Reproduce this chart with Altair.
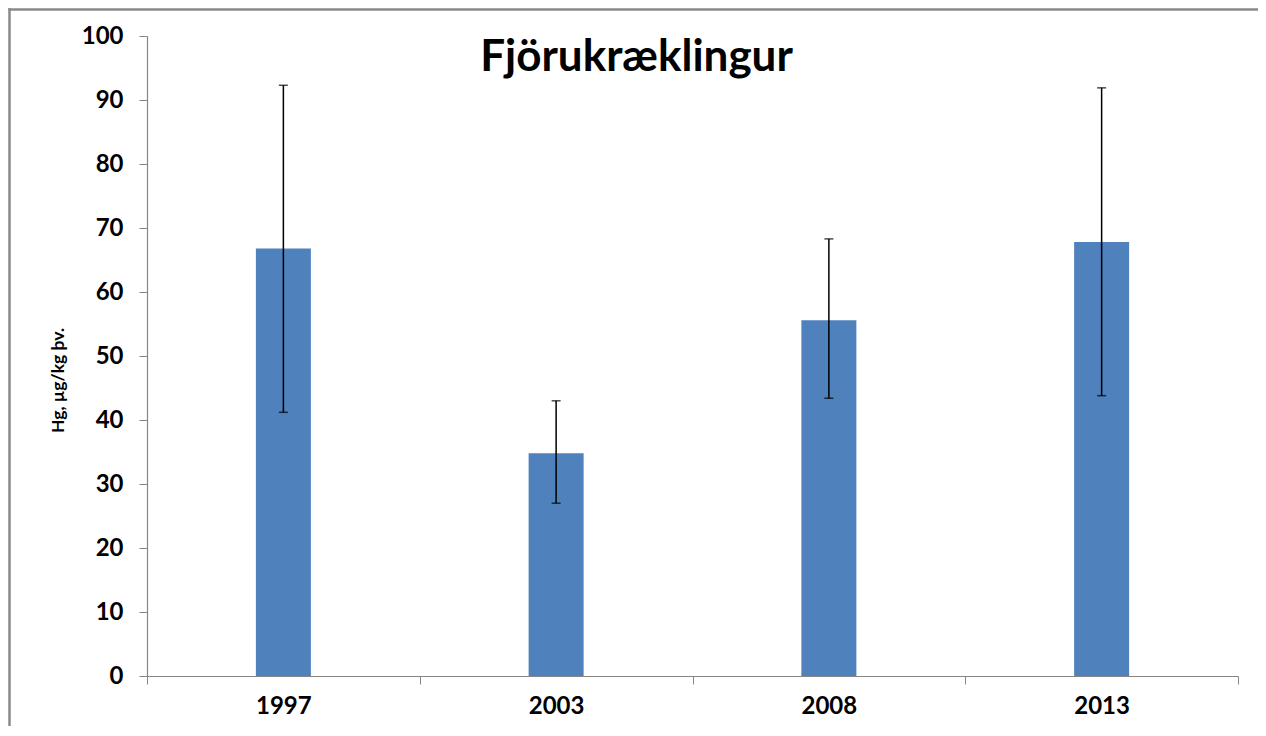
import altair as alt
import pandas as pd

years = ["1997", "2003", "2008", "2013"]
means = [66.8, 34.8, 55.6, 67.8]
upper = [92.3, 43.0, 68.3, 91.9]
lower = [41.2, 27.0, 43.4, 43.8]
chart_title = "Fjörukræklingur"
y_title = "Hg, µg/kg þv."

df = pd.DataFrame({"year": years, "mean": means, "upper": upper, "lower": lower})

W, H = 1091, 640
FONT = "Lato"
GRAY = "#868686"

x_enc = alt.X(
    "year:N", sort=years, title=None,
    scale=alt.Scale(paddingInner=0, paddingOuter=0),
    axis=alt.Axis(labelAngle=0, tickBand="extent", labelFont=FONT, labelFontSize=24,
                  labelFontWeight="bold", labelColor="black", labelPadding=10,
                  tickSize=8, domainColor=GRAY, tickColor=GRAY, domainWidth=1.2),
)
y_axis = alt.Axis(values=list(range(0, 101, 10)), grid=False, labelFont=FONT,
                  labelFontSize=24, labelFontWeight="bold", labelColor="black",
                  labelPadding=16, tickSize=8, domainColor=GRAY, tickColor=GRAY,
                  domainWidth=1.2, titleFont=FONT, titleFontSize=17.5,
                  titleFontWeight="bold", titleColor="black", titleAngle=-90,
                  titleX=-89, titleY=344, titleAlign="center", titleBaseline="middle")
y_scale = alt.Scale(domain=[0, 100], nice=False)

base = alt.Chart(df)
bars = base.mark_bar(size=55, color="#4F81BD").encode(
    x=x_enc, y=alt.Y("mean:Q", scale=y_scale, axis=y_axis, title=y_title))
rules = base.mark_rule(color="black", strokeWidth=1.5).encode(
    x=x_enc, y=alt.Y("lower:Q", scale=y_scale, title=y_title),
    y2=alt.Y2("upper:Q", title=y_title))
caps_hi = base.mark_tick(size=9, thickness=1.5, color="black").encode(
    x=x_enc, y=alt.Y("upper:Q", scale=y_scale, title=y_title))
caps_lo = base.mark_tick(size=9, thickness=1.5, color="black").encode(
    x=x_enc, y=alt.Y("lower:Q", scale=y_scale, title=y_title))

title_text = alt.Chart(pd.DataFrame({"t": [chart_title]})).mark_text(
    font=FONT, fontSize=44, fontWeight="bold", align="center", baseline="alphabetic",
    color="black").encode(x=alt.value(489.5), y=alt.value(35), text="t:N")

frame = alt.Chart(pd.DataFrame({"a": [0]}))
border_left = frame.mark_rule(color="#8a8a8a", strokeWidth=2.5).encode(
    x=alt.value(-137.5), y=alt.value(-27.75), y2=alt.value(H + 100))
border_top = frame.mark_rule(color="#8a8a8a", strokeWidth=2.5).encode(
    y=alt.value(-26.5), x=alt.value(-138.75), x2=alt.value(W + 100))

chart = alt.layer(border_left, border_top, bars, rules, caps_hi, caps_lo, title_text).properties(
    width=W, height=H,
    autosize=alt.AutoSizeParams(type="none"),
    padding={"left": 139, "top": 28, "right": 20, "bottom": 50},
).configure_view(strokeWidth=0)

chart.save("out.html", embed_options={"renderer": "svg", "actions": False})
